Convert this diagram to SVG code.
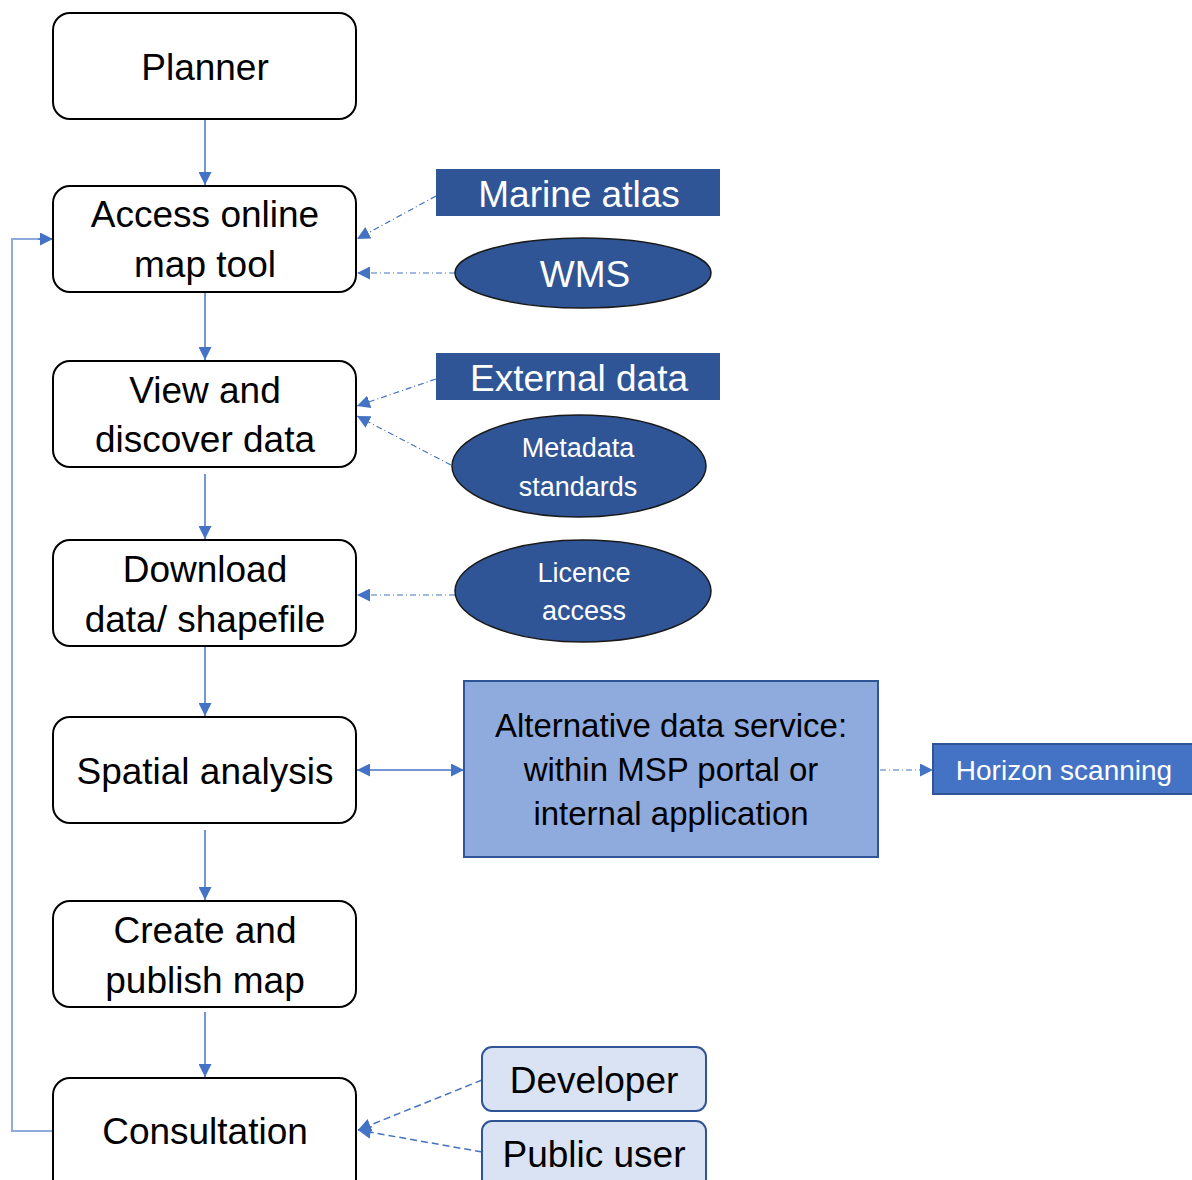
<svg xmlns="http://www.w3.org/2000/svg" width="1192" height="1180" viewBox="0 0 1192 1180">
  <style>
    .step { fill: #ffffff; stroke: #000000; stroke-width: 2; }
    .dark { fill: #2F5597; }
    .darkE { fill: #2F5597; stroke: #1a1a1a; stroke-width: 1.5; }
    .alt { fill: #8FAADC; stroke: #2F5597; stroke-width: 2; }
    .hz { fill: #4472C4; stroke: #2F5597; stroke-width: 2; }
    .user { fill: #DAE3F3; stroke: #2F5597; stroke-width: 2; }
    text { font-family: "Liberation Sans", Arial, sans-serif; text-anchor: middle; }
    .t36 { font-size: 37px; fill: #000000; }
    .w37 { font-size: 37px; fill: #ffffff; }
    .w28 { font-size: 27px; fill: #ffffff; }
    .b33 { font-size: 33px; fill: #000000; }
    .flow { stroke: #4472C4; stroke-width: 1.5; fill: none; }
    .loop { stroke: #8FAADC; stroke-width: 2; fill: none; }
    .dashdot { stroke: #4472C4; stroke-width: 1.2; fill: none; stroke-dasharray: 6 3 1 3; }
    .dash { stroke: #4472C4; stroke-width: 1.5; fill: none; stroke-dasharray: 7 4; }
  </style>
  <defs>
    <marker id="arrL" viewBox="0 0 10 10" refX="10" refY="5" markerWidth="13" markerHeight="13" markerUnits="userSpaceOnUse" orient="auto-start-reverse">
      <path d="M0,0 L10,5 L0,10 z" fill="#4472C4"/>
    </marker>
  </defs>

  <!-- connectors -->
  <g id="connectors">
    <line class="flow" x1="205" y1="120" x2="205" y2="185" marker-end="url(#arrL)"/>
    <line class="flow" x1="205" y1="293" x2="205" y2="360" marker-end="url(#arrL)"/>
    <line class="flow" x1="205" y1="474" x2="205" y2="539" marker-end="url(#arrL)"/>
    <line class="flow" x1="205" y1="647" x2="205" y2="716" marker-end="url(#arrL)"/>
    <line class="flow" x1="205" y1="830" x2="205" y2="900" marker-end="url(#arrL)"/>
    <line class="flow" x1="205" y1="1012" x2="205" y2="1077" marker-end="url(#arrL)"/>
    <polyline class="loop" points="53,1131 12,1131 12,239 40,239"/>
    <line class="flow" x1="38" y1="239" x2="53" y2="239" marker-end="url(#arrL)"/>
    <line class="dashdot" x1="436" y1="196" x2="357" y2="239" marker-end="url(#arrL)"/>
    <line class="dashdot" x1="455" y1="273" x2="357" y2="273" marker-end="url(#arrL)"/>
    <line class="dashdot" x1="436" y1="379" x2="357" y2="406" marker-end="url(#arrL)"/>
    <line class="dashdot" x1="451" y1="465" x2="357" y2="416" marker-end="url(#arrL)"/>
    <line class="dashdot" x1="455" y1="595" x2="357" y2="595" marker-end="url(#arrL)"/>
    <line class="flow" x1="357" y1="770" x2="464" y2="770" marker-start="url(#arrL)" marker-end="url(#arrL)"/>
    <line class="dashdot" x1="880" y1="770" x2="933" y2="770" marker-end="url(#arrL)"/>
    <line class="dash" x1="482" y1="1080" x2="358" y2="1130" marker-end="url(#arrL)"/>
    <line class="dash" x1="482" y1="1152" x2="358" y2="1130" marker-end="url(#arrL)"/>
  </g>

  <!-- main workflow steps -->
  <g id="planner">
    <rect class="step" x="53" y="13" width="303" height="106" rx="17"/>
    <text class="t36" x="205" y="80">Planner</text>
  </g>
  <g id="access-map-tool">
    <rect class="step" x="53" y="186" width="303" height="106" rx="17"/>
    <text class="t36" x="205" y="227">Access online</text>
    <text class="t36" x="205" y="277">map tool</text>
  </g>
  <g id="view-discover">
    <rect class="step" x="53" y="361" width="303" height="106" rx="17"/>
    <text class="t36" x="205" y="403">View and</text>
    <text class="t36" x="205" y="452">discover data</text>
  </g>
  <g id="download">
    <rect class="step" x="53" y="540" width="303" height="106" rx="17"/>
    <text class="t36" x="205" y="582">Download</text>
    <text class="t36" x="205" y="632">data/ shapefile</text>
  </g>
  <g id="spatial-analysis">
    <rect class="step" x="53" y="717" width="303" height="106" rx="17"/>
    <text class="t36" x="205" y="784">Spatial analysis</text>
  </g>
  <g id="create-publish">
    <rect class="step" x="53" y="901" width="303" height="106" rx="17"/>
    <text class="t36" x="205" y="943">Create and</text>
    <text class="t36" x="205" y="993">publish map</text>
  </g>
  <g id="consultation">
    <rect class="step" x="53" y="1078" width="303" height="120" rx="17"/>
    <text class="t36" x="205" y="1144">Consultation</text>
  </g>

  <!-- data sources -->
  <g id="marine-atlas">
    <rect class="dark" x="436" y="169" width="284" height="47"/>
    <text class="w37" x="579" y="207">Marine atlas</text>
  </g>
  <g id="wms">
    <ellipse class="darkE" cx="583" cy="273" rx="128" ry="35"/>
    <text class="w37" x="585" y="287">WMS</text>
  </g>
  <g id="external-data">
    <rect class="dark" x="436" y="353" width="284" height="47"/>
    <text class="w37" x="579" y="391">External data</text>
  </g>
  <g id="metadata-standards">
    <ellipse class="darkE" cx="579" cy="466" rx="127" ry="51"/>
    <text class="w28" x="578" y="457">Metadata</text>
    <text class="w28" x="578" y="496">standards</text>
  </g>
  <g id="licence-access">
    <ellipse class="darkE" cx="583" cy="591" rx="128" ry="51"/>
    <text class="w28" x="584" y="582">Licence</text>
    <text class="w28" x="584" y="620">access</text>
  </g>

  <!-- alternative service -->
  <g id="alternative-service">
    <rect class="alt" x="464" y="681" width="414" height="176"/>
    <text class="b33" x="671" y="737">Alternative data service:</text>
    <text class="b33" x="671" y="781">within MSP portal or</text>
    <text class="b33" x="671" y="825">internal application</text>
  </g>
  <g id="horizon-scanning">
    <rect class="hz" x="933" y="744" width="262" height="50"/>
    <text x="1064" y="780" style="font-size:28px;fill:#ffffff">Horizon scanning</text>
  </g>

  <!-- consultees -->
  <g id="developer">
    <rect class="user" x="482" y="1047" width="224" height="64" rx="10"/>
    <text class="t36" x="594" y="1093">Developer</text>
  </g>
  <g id="public-user">
    <rect class="user" x="482" y="1121" width="224" height="72" rx="10"/>
    <text class="t36" x="594" y="1167">Public user</text>
  </g>
</svg>
